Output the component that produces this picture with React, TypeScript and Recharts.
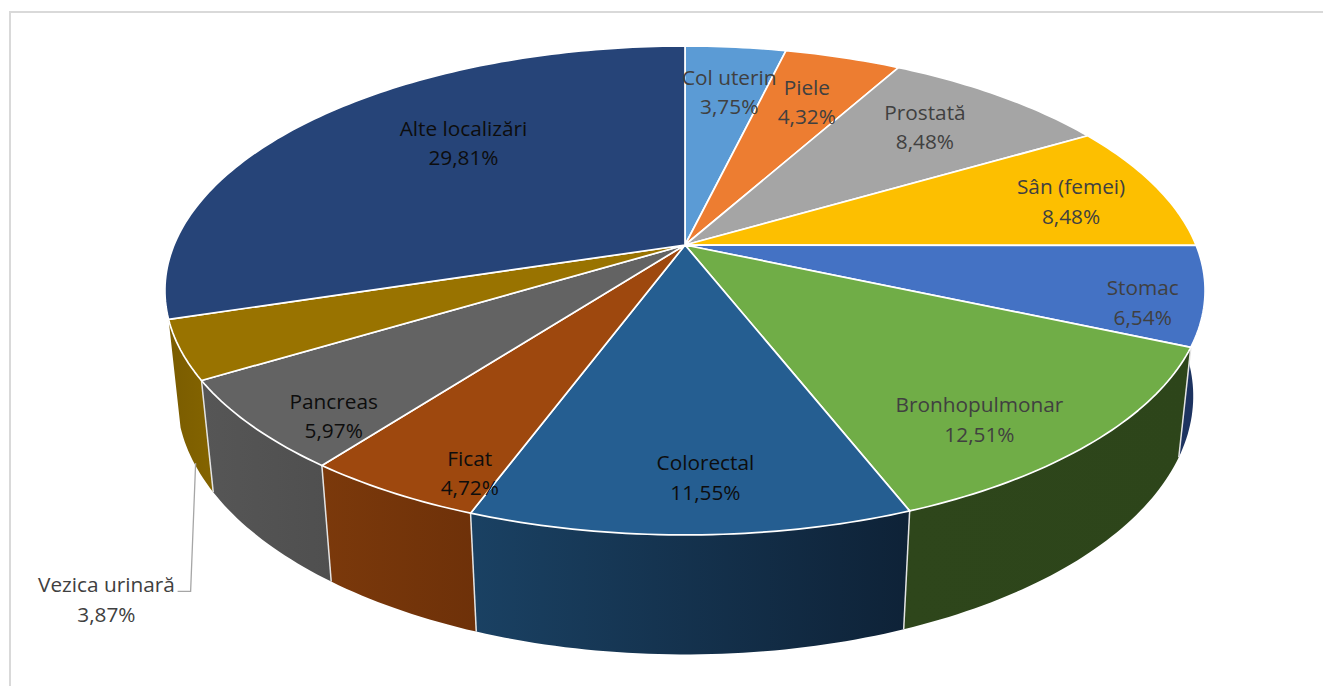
import { Pie, PieChart } from "recharts";

const names = [
  "Col uterin", "Piele", "Prostată", "Sân (femei)", "Stomac", "Bronhopulmonar",
  "Colorectal", "Ficat", "Pancreas", "Vezica urinară", "Alte localizări",
];
const shares = [3.75, 4.32, 8.48, 8.48, 6.54, 12.51, 11.55, 4.72, 5.97, 3.87, 29.81];
const topColors = [
  "#5b9bd5", "#ed7d31", "#a5a5a5", "#fdbf00", "#4472c4", "#70ad47",
  "#255e91", "#9e480e", "#636363", "#997300", "#264478",
];
const wallLeft = [
  "#2f5f8c", "#8f4a1c", "#636363", "#997300", "#1d3360", "#2e461b",
  "#1a4163", "#7b390b", "#565656", "#7a5c00", "#162844",
];
const wallRight = [
  "#2f5f8c", "#8f4a1c", "#636363", "#997300", "#1d3360", "#2d451a",
  "#0e2237", "#6e3109", "#4f4f4f", "#846400", "#162844",
];
const labelInk = [
  "#404040", "#404040", "#404040", "#404040", "#404040", "#404040",
  "#0d0d0d", "#0d0d0d", "#0d0d0d", "#404040", "#0d0d0d",
];

const rows = names.map((name, i) => ({ name, value: shares[i], idx: i }));

// fake 3d: perspective of a flat disc seen from above
const TILT = 0.186;
const FLATTEN = 0.4618;
const DEPTH = 0.2084;
const DEPTH_W = 0.0225;
const LINE_H = 29.5;

// [reach along the radius, turn from the slice middle in degrees]
const labelSpots = [
  [0.744, 0.85], [0.734, 0.2], [0.756, -1.1], [0.805, 1.5], [0.888, 3.3], [0.824, 5.9],
  [0.834, -1.8], [0.893, -5.2], [0.88, -4.5], [1.47, -28.7], [0.666, 8.6],
];

function project(cx: number, cy: number, R: number, deg: number, reach = 1, z = 0) {
  const a = (deg * Math.PI) / 180;
  const u = reach * Math.cos(a);
  const v = -reach * Math.sin(a);
  const w = 1 - TILT * v + DEPTH_W * z;
  return {
    x: cx + (R * u) / w,
    y: cy + (R * (FLATTEN * v + DEPTH * z)) / w,
  };
}

function arcPoints(p: any, z: number) {
  const pts = [];
  const steps = Math.max(2, Math.ceil(Math.abs(p.endAngle - p.startAngle)));
  for (let i = 0; i <= steps; i++) {
    const deg = p.startAngle + ((p.endAngle - p.startAngle) * i) / steps;
    pts.push(project(p.cx, p.cy, p.outerRadius, deg, 1, z));
  }
  return pts;
}

const toPath = (pts: { x: number; y: number }[]) =>
  pts.map((q, i) => `${i ? "L" : "M"}${q.x.toFixed(2)} ${q.y.toFixed(2)}`).join(" ");

function TopFace(props: any) {
  const d = `M${props.cx} ${props.cy} ${toPath(arcPoints(props, 0)).replace("M", "L")} Z`;
  return <path d={d} fill={topColors[props.idx]} stroke="#ffffff" strokeWidth={1.7} strokeLinejoin="round" />;
}

function WallFace(props: any) {
  // only slices facing the viewer get a wall
  const mid = ((props.startAngle + props.endAngle) / 2) * (Math.PI / 180);
  if (Math.sin(mid) > 0) return <g />;
  const upper = arcPoints(props, 0);
  const lower = arcPoints(props, 1);
  const d = `${toPath(upper)} ${toPath([...lower].reverse()).replace("M", "L")} Z`;
  const gid = `wall-${props.idx}`;
  const xs = [...upper, ...lower].map((q) => q.x);
  return (
    <g>
      <defs>
        <linearGradient id={gid} gradientUnits="userSpaceOnUse" x1={Math.min(...xs)} x2={Math.max(...xs)} y1={0} y2={0}>
          <stop offset="0%" stopColor={wallLeft[props.idx]} />
          <stop offset="100%" stopColor={wallRight[props.idx]} />
        </linearGradient>
      </defs>
      <path d={d} fill={`url(#${gid})`} />
      <path d={toPath([upper[0], lower[0]])} stroke="#e4e4e4" strokeWidth={1.5} fill="none" />
    </g>
  );
}

function SliceLabel(props: any) {
  const i = props.index;
  const [reach, turn] = labelSpots[i];
  const spot = project(props.cx, props.cy, props.outerRadius, props.midAngle - turn, reach);
  const pct = shares[i].toFixed(2).replace(".", ",") + "%";
  const base = spot.y - LINE_H / 2 + 7.5;
  let leader = null;
  if (names[i] === "Vezica urinară") {
    const foot = project(props.cx, props.cy, props.outerRadius, props.midAngle, 1, 1);
    const elbowY = spot.y - 8;
    leader = (
      <path
        d={`M${foot.x + 3} ${foot.y + 3} L${foot.x - 2} ${elbowY} L${foot.x - 15} ${elbowY}`}
        fill="none"
        stroke="#a6a6a6"
        strokeWidth={1.3}
      />
    );
  }
  return (
    <g>
      {leader}
      <text x={spot.x} y={base} textAnchor="middle" fontFamily="'Open Sans', sans-serif" fontSize={20.8} fill={labelInk[i]}>
        <tspan x={spot.x}>{names[i]}</tspan>
        <tspan x={spot.x} dy={LINE_H}>{pct}</tspan>
      </text>
    </g>
  );
}

export default function App() {
  return (
    <div style={{ position: "absolute", left: 0, top: 0, width: 1323, height: 686, overflow: "hidden", background: "#fff" }}>
      <div style={{ position: "absolute", left: 9, top: 11, width: 1314, height: 675, borderLeft: "2px solid #d9d9d9", borderTop: "2px solid #d9d9d9" }} />
      <div style={{ position: "absolute", left: 0, top: 0 }}>
        <PieChart width={1323} height={686} margin={{ top: 0, right: 0, bottom: 0, left: 0 }}>
          <Pie
            data={rows}
            dataKey="value"
            cx={685}
            cy={245}
            outerRadius={511}
            startAngle={90}
            endAngle={-270}
            isAnimationActive={false}
            shape={WallFace}
            label={false}
            labelLine={false}
          />
          <Pie
            data={rows}
            dataKey="value"
            cx={685}
            cy={245}
            outerRadius={511}
            startAngle={90}
            endAngle={-270}
            isAnimationActive={false}
            shape={TopFace}
            label={SliceLabel}
            labelLine={false}
          />
        </PieChart>
      </div>
    </div>
  );
}
